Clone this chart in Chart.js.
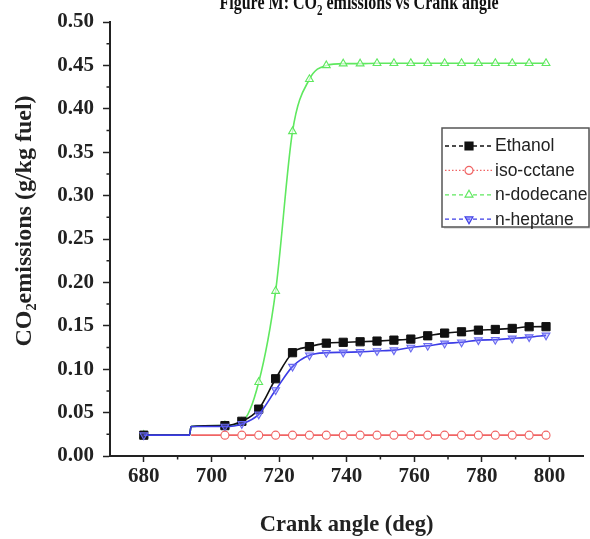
<!DOCTYPE html>
<html>
<head>
<meta charset="utf-8">
<script src="https://cdn.jsdelivr.net/npm/chart.js@4/dist/chart.umd.min.js"></script>
<style>
  html, body { margin: 0; padding: 0; background: #fff; overflow: hidden; }
  #wrap { position: relative; width: 590px; height: 539px; }
  #fig-title { position: absolute; left: 0; width: 590px; top: -3px; text-align: center;
    font: bold 16px "Liberation Serif", "Times New Roman", serif; color: #111; white-space: nowrap; padding-left: 128px; box-sizing: border-box;
    transform: scaleY(1.3); transform-origin: 50% 100%; }
  canvas { position: absolute; left: 0; top: 0; }
</style>
</head>
<body>
<div id="wrap">
  <canvas id="c" width="590" height="539"></canvas>
  <div id="fig-title">Figure M: CO<sub style="font-size:11px">2</sub> emissions vs Crank angle</div>
</div>
<script>
// ---- data ----
const crankAngles = [680, 693.5, 694, 704, 709, 714, 719, 724, 729, 734, 739, 744, 749, 754, 759, 764, 769, 774, 779, 784, 789, 794, 799];
const seriesNames = ["Ethanol", "iso-cctane", "n-dodecane", "n-heptane"];
const ethanol   = [0.024, 0.024, 0.034, 0.035, 0.040, 0.054, 0.089, 0.119, 0.126, 0.130, 0.131, 0.1316, 0.1324, 0.1335, 0.1347, 0.1385, 0.1416, 0.1431, 0.145, 0.1458, 0.147, 0.1489, 0.149];
const isoOctane = [null, null, 0.024, 0.024, 0.024, 0.024, 0.024, 0.024, 0.024, 0.024, 0.024, 0.024, 0.024, 0.024, 0.024, 0.024, 0.024, 0.024, 0.024, 0.024, 0.024, 0.024, 0.024];
const dodecane  = [0.024, 0.024, 0.034, 0.035, 0.039, 0.085, 0.190, 0.374, 0.434, 0.450, 0.452, 0.452, 0.4525, 0.4525, 0.4525, 0.4525, 0.4525, 0.4525, 0.4525, 0.4525, 0.4525, 0.4525, 0.4525];
const heptane   = [0.024, 0.024, 0.034, 0.034, 0.037, 0.048, 0.076, 0.103, 0.116, 0.119, 0.1194, 0.120, 0.121, 0.122, 0.125, 0.127, 0.1297, 0.131, 0.1335, 0.134, 0.1355, 0.137, 0.139];
const markerShown = [1, 0, 0, 1, 1, 1, 1, 1, 1, 1, 1, 1, 1, 1, 1, 1, 1, 1, 1, 1, 1, 1, 1];
const xTickLabels = [680, 700, 720, 740, 760, 780, 800];
const xMinorTicks = [690, 710, 730, 750, 770, 790];
const yTickLabels = [0, 0.05, 0.10, 0.15, 0.20, 0.25, 0.30, 0.35, 0.40, 0.45, 0.50];
const yMinorTicks = [0.025, 0.075, 0.125, 0.175, 0.225, 0.275, 0.325, 0.375, 0.425, 0.475];

const COLORS = { eth: "#111111", iso: "#f06464", dod: "#5fe85f", hep: "#3c3ce6" };
const pts = vals => crankAngles.map((a, i) => ({ x: a, y: vals[i] }));
const radii = r => markerShown.map(m => m ? r : 0);

const legendItems = [
  { label: seriesNames[0], color: COLORS.eth, dash: [4, 3], style: "rect", fill: COLORS.eth, r: 4, rot: 0 },
  { label: seriesNames[1], color: COLORS.iso, dash: [1.5, 2], style: "circle", fill: "#fff", r: 4, rot: 0 },
  { label: seriesNames[2], color: COLORS.dod, dash: [4, 3], style: "triangle", fill: "#fff", r: 4.5, rot: 0 },
  { label: seriesNames[3], color: COLORS.hep, dash: [4, 3], style: "triangle", fill: "rgba(130,130,255,0.5)", r: 4.5, rot: 180 }
];

function drawMarker(ctx, it, x, y) {
  ctx.save();
  ctx.translate(x, y);
  ctx.rotate(it.rot * Math.PI / 180);
  ctx.setLineDash([]);
  ctx.lineWidth = 1.2;
  ctx.strokeStyle = it.color;
  ctx.fillStyle = it.fill;
  ctx.beginPath();
  if (it.style === "rect") { ctx.rect(-it.r, -it.r, 2 * it.r, 2 * it.r); }
  else if (it.style === "circle") { ctx.arc(0, 0, it.r, 0, Math.PI * 2); }
  else { const r = it.r; ctx.moveTo(0, -r); ctx.lineTo(r * 0.87, r * 0.5); ctx.lineTo(-r * 0.87, r * 0.5); ctx.closePath(); }
  ctx.fill(); ctx.stroke();
  ctx.restore();
}

const extrasPlugin = {
  id: "extras",
  afterDraw(chart) {
    const ctx = chart.ctx;
    const xs = chart.scales.x, ys = chart.scales.y;
    const area = chart.chartArea;
    ctx.save();
    ctx.strokeStyle = "#222";
    ctx.lineWidth = 1.5;
    ctx.beginPath();
    yMinorTicks.forEach(v => { const p = ys.getPixelForValue(v); ctx.moveTo(area.left - 3.5, p); ctx.lineTo(area.left, p); });
    xMinorTicks.forEach(v => { const p = xs.getPixelForValue(v); ctx.moveTo(p, area.bottom); ctx.lineTo(p, area.bottom + 3.5); });
    ctx.stroke();

    // legend box
    const bx = 442, by = 128, bw = 147, bh = 99;
    ctx.fillStyle = "rgba(0,0,0,0.12)";
    ctx.fillRect(bx + 2, by + 2, bw, bh);
    ctx.fillStyle = "#fff";
    ctx.fillRect(bx, by, bw, bh);
    ctx.strokeStyle = "#555";
    ctx.lineWidth = 1.5;
    ctx.strokeRect(bx, by, bw, bh);
    ctx.font = '17.5px "Liberation Sans", Arial, sans-serif';
    ctx.textBaseline = "middle";
    ctx.textAlign = "left";
    legendItems.forEach((it, i) => {
      const y = 146 + i * 24.4;
      ctx.save();
      ctx.strokeStyle = it.color;
      ctx.lineWidth = 1.3;
      ctx.setLineDash(it.dash);
      ctx.beginPath(); ctx.moveTo(445, y); ctx.lineTo(492, y); ctx.stroke();
      ctx.restore();
      drawMarker(ctx, it, 469, y);
      ctx.fillStyle = "#222";
      ctx.fillText(it.label, 495, y + 0.5);
    });
    ctx.restore();
  }
};

const serif = '"Liberation Serif", "Times New Roman", serif';
const tickFont = { family: serif, size: 21, weight: "bold" };

new Chart(document.getElementById("c"), {
  type: "line",
  data: {
    datasets: [
      { label: seriesNames[1], data: pts(isoOctane), borderColor: COLORS.iso, backgroundColor: "#fff",
        pointStyle: "circle", pointRadius: radii(4), pointBorderWidth: 1.1, borderWidth: 1.6, order: 0 },
      { label: seriesNames[3], data: pts(heptane), borderColor: COLORS.hep, backgroundColor: "rgba(130,130,255,0.35)",
        pointStyle: "triangle", pointRotation: 180, pointRadius: radii(4.5), pointBorderColor: "#6a6af0", pointBorderWidth: 1.1, borderWidth: 1.6, order: 1 },
      { label: seriesNames[0], data: pts(ethanol), borderColor: COLORS.eth, backgroundColor: COLORS.eth,
        pointStyle: "rect", pointRadius: radii(5.8), pointBorderWidth: 1, borderWidth: 1.6, order: 2 },
      { label: seriesNames[2], data: pts(dodecane), borderColor: COLORS.dod, backgroundColor: "rgba(255,255,255,0.6)",
        pointStyle: "triangle", pointRadius: radii(4.5), pointBorderWidth: 1.1, borderWidth: 1.6, order: 3 }
    ]
  },
  options: {
    responsive: false,
    animation: false,
    devicePixelRatio: 1,
    cubicInterpolationMode: "monotone",
    spanGaps: false,
    layout: { padding: { top: 22, right: 3, left: 0, bottom: 0 } },
    plugins: { legend: { display: false }, tooltip: { enabled: false }, title: { display: false } },
    scales: {
      x: {
        type: "linear", min: 670, max: 810,
        afterBuildTicks: s => { s.ticks = xTickLabels.map(v => ({ value: v })); },
        afterFit: s => { s.height = 83; },
        grid: { display: true, drawOnChartArea: false, drawTicks: true, tickLength: 6, tickColor: "#222", tickWidth: 1.5 },
        border: { display: true, color: "#222", width: 2 },
        ticks: { font: tickFont, color: "#222", padding: 2, maxRotation: 0, autoSkip: false, callback: v => String(v) },
        title: { display: true, text: "Crank angle (deg)", color: "#222",
          font: { family: serif, size: 22.5, weight: "bold" }, padding: { top: 0, bottom: 0 } }
      },
      y: {
        type: "linear", min: 0, max: 0.5,
        afterBuildTicks: s => { s.ticks = yTickLabels.map(v => ({ value: v })); },
        afterFit: s => { s.width = 110; },
        grid: { display: true, drawOnChartArea: false, drawTicks: true, tickLength: 7, tickColor: "#222", tickWidth: 1.5 },
        border: { display: true, color: "#222", width: 2 },
        ticks: { font: tickFont, color: "#222", padding: 9, autoSkip: false, callback: v => Number(v).toFixed(2) },
        title: { display: true, text: "      CO₂emissions (g/kg fuel)", color: "#222",
          font: { family: serif, size: 24, weight: "bold" }, padding: { top: 10, bottom: 0 } }
      }
    }
  },
  plugins: [extrasPlugin]
});
</script>
</body>
</html>
